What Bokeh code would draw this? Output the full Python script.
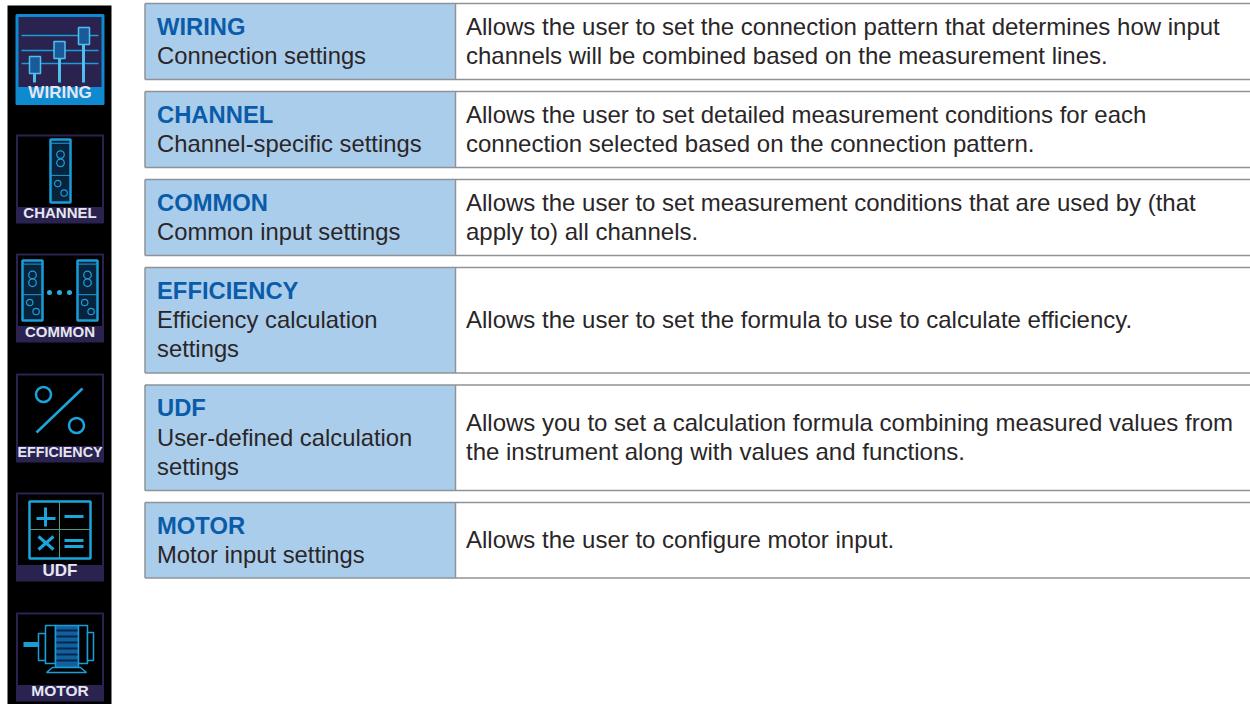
from bokeh.plotting import figure
from bokeh.models import Range1d
from bokeh.core.properties import value
from bokeh.embed import file_html
from bokeh.resources import INLINE

titles = ["WIRING", "CHANNEL", "COMMON", "EFFICIENCY", "UDF", "MOTOR"]
subtitles = [["Connection settings"], ["Channel-specific settings"], ["Common input settings"],
             ["Efficiency calculation", "settings"], ["User-defined calculation", "settings"], ["Motor input settings"]]
descriptions = [
    ["Allows the user to set the connection pattern that determines how input", "channels will be combined based on the measurement lines."],
    ["Allows the user to set detailed measurement conditions for each", "connection selected based on the connection pattern."],
    ["Allows the user to set measurement conditions that are used by (that", "apply to) all channels."],
    ["Allows the user to set the formula to use to calculate efficiency."],
    ["Allows you to set a calculation formula combining measured values from", "the instrument along with values and functions."],
    ["Allows the user to configure motor input."],
]
row_tops = [3, 91, 179, 267, 384.5, 502]
row_bottoms = [79, 167, 255, 372.5, 490, 577.5]
icon_labels = ["WIRING", "CHANNEL", "COMMON", "EFFICIENCY", "UDF", "MOTOR"]
icon_tops = [15, 135, 254, 374, 493, 613]
icon_label_sizes = [17, 15, 15, 14.3, 17, 15.5]

FONT = value("Liberation Sans")
p = figure(width=1250, height=704, x_range=Range1d(0, 1250), y_range=Range1d(704, 0),
           output_backend="svg", toolbar_location=None, min_border=0)
p.axis.visible = False
p.grid.visible = False
p.outline_line_color = None
p.background_fill_color = "white"
p.border_fill_color = "white"

LEFT, SPLIT, RIGHT = 144.5, 455, 1260
LINE = 29.2
p.quad(left=LEFT, right=SPLIT, top=row_tops, bottom=row_bottoms, fill_color="#abcdec", line_color=None)
for t, b in zip(row_tops, row_bottoms):
    p.segment(x0=[LEFT, LEFT, SPLIT, LEFT], y0=[t, b, t, t], x1=[RIGHT, RIGHT, SPLIT, LEFT],
              y1=[t, b, b, b], line_color="#8f9396", line_width=1.5)

for title, sub, desc, t, b in zip(titles, subtitles, descriptions, row_tops, row_bottoms):
    n = 1 + len(sub)
    mid = (t + b) / 2 - 0.6
    y0 = mid - (n - 1) * LINE / 2
    p.text(x=[156.5], y=[y0], text=[title], text_font=FONT, text_font_size="23.8px", text_font_style="bold",
           text_color="#0a5ca8", text_baseline="middle")
    p.text(x=[156.5] * len(sub), y=[y0 + LINE * (i + 1) for i in range(len(sub))], text=sub, text_font=FONT,
           text_font_size="23.8px", text_color="#2a2627", text_baseline="middle")
    y1 = mid - (len(desc) - 1) * LINE / 2
    p.text(x=[465.5] * len(desc), y=[y1 + LINE * i for i in range(len(desc))], text=desc, text_font=FONT,
           text_font_size="24px", text_color="#2a2627", text_baseline="middle")

# icon strip
p.quad(left=7, right=111, top=5, bottom=704, fill_color="black", line_color=None)
NAVY, CYAN, BLUE, PALE = "#2a2350", "#1a9cd8", "#0e8ad0", "#4fc0ee"
for i, (top, lab, size) in enumerate(zip(icon_tops, icon_labels, icon_label_sizes)):
    active = i == 0
    frame = BLUE if active else NAVY
    h = 88 if active else 87
    p.quad(left=16.5, right=102.5, top=top, bottom=top + h, fill_color=NAVY if active else "black",
           line_color=frame, line_width=3 if active else 2, line_join="round")
    p.quad(left=16.5, right=102.5, top=top + 72, bottom=top + h, fill_color=frame, line_color=frame)
    p.text(x=[59.5], y=[top + 77], text=[lab], text_font=FONT, text_font_style="bold",
           text_font_size=f"{size}px", text_color="#e6e6f2", text_align="center", text_baseline="middle")

# wiring
p.segment(x0=[21] * 3, x1=[98] * 3, y0=[35, 50, 63], y1=[35, 50, 63], line_color=CYAN, line_width=1.5)
p.segment(x0=[34, 59, 83], x1=[34, 59, 83], y0=[56, 41, 27], y1=[82, 82, 82], line_color=PALE, line_width=3)
p.quad(left=[29, 53.5, 78], right=[40, 64.5, 89], top=[56, 41, 27], bottom=[73, 58, 44], fill_color="#1a5a9a", line_color=PALE, line_width=1.5)

# channel modules
def module(x0, y0, x1, y1):
    p.quad(left=x0, right=x1, top=y0, bottom=y1, fill_color="#08243c", line_color=CYAN, line_width=2.5)
    w, h = x1 - x0, y1 - y0
    xc = (x0 + x1) / 2
    p.circle(x=[xc, xc], y=[y0 + h * .24, y0 + h * .37], radius=3.8, fill_color=None, line_color=CYAN, line_width=1.3)
    p.circle(x=[xc - w * .14, xc + w * .18], y=[y0 + h * .70, y0 + h * .85], radius=3.2, fill_color=None, line_color=CYAN, line_width=1.2)
    p.segment(x0=[x0, x0], y0=[y0 + h * .06, y0 + h * .57], x1=[x1, x1], y1=[y0 + h * .06, y0 + h * .57], line_color=CYAN, line_width=1)

module(50, 139, 70, 202)
module(22, 260, 42, 320)
module(77, 260, 97, 320)
p.circle(x=[49, 59, 69], y=[292] * 3, radius=2.5, fill_color="#2aaee0", line_color=None)

# efficiency
p.circle(x=[43, 76], y=[394, 425], radius=7.5, fill_color=None, line_color="#1aa6dc", line_width=2.5)
p.segment(x0=[36], y0=[432], x1=[82], y1=[388], line_color="#1aa6dc", line_width=2.5)

# UDF
p.quad(left=29, right=90, top=501, bottom=558, fill_color=None, line_color="#1aa6dc", line_width=2.5)
p.segment(x0=[59, 29], y0=[501, 529], x1=[59, 90], y1=[558, 529], line_color="#4a9a88", line_width=1)
p.segment(x0=[36, 45, 64, 64, 64, 38, 38], y0=[518, 507, 516, 540, 546, 536, 549],
          x1=[55, 45, 83, 83, 83, 53, 53], y1=[518, 526, 516, 540, 546, 549, 536], line_color="#1aa6dc", line_width=3)

# motor
p.segment(x0=[23], y0=[644], x1=[38], y1=[644], line_color=CYAN, line_width=5)
p.quad(left=[38, 45, 55, 78, 87], right=[45, 55, 78, 87, 93], top=[633, 625, 625, 625, 632],
       bottom=[660, 663, 667, 663, 660], fill_color=["black", "black", "#12609e", "black", "black"],
       line_color=CYAN, line_width=1.5)
p.segment(x0=[56] * 6, x1=[77] * 6, y0=[630, 636, 642, 648, 654, 660], y1=[630, 636, 642, 648, 654, 660], line_color="#06264e", line_width=2)
p.patch(x=[52, 80, 86, 46], y=[667, 667, 672, 672], fill_color="black", line_color=CYAN, line_width=1.5)

open("out.html", "w").write(file_html(p, INLINE))
